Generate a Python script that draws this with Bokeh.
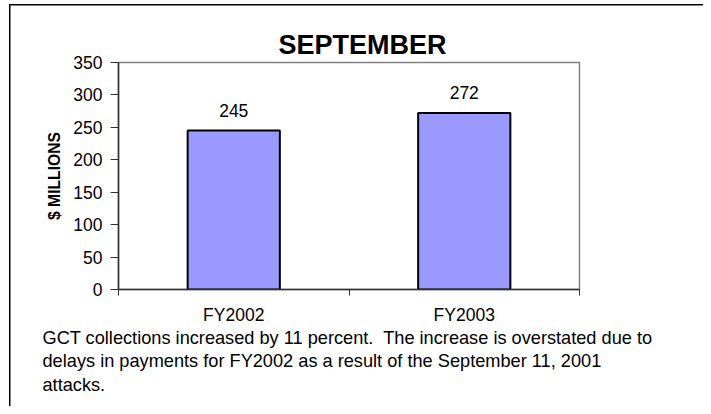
from bokeh.plotting import figure
from bokeh.models import Range1d, FixedTicker, LinearAxis, Label, Title
from bokeh.embed import file_html
from bokeh.resources import INLINE

categories = ["FY2002", "FY2003"]
values = [245, 272]
y_ticks = [0, 50, 100, 150, 200, 250, 300, 350]
title_text = "SEPTEMBER"
y_label = "$ MILLIONS"
note_lines = [
    "GCT collections increased by 11 percent.\u00a0 The increase is overstated due to",
    "delays in payments for FY2002 as a result of the September 11, 2001",
    "attacks.",
]

FONT = "Liberation Sans"
W, H = 703, 406

xs = [i + 0.5 for i in range(len(categories))]
bounds = list(range(len(categories) + 1))

p = figure(width=W, height=H, output_backend="svg", toolbar_location=None,
           x_range=Range1d(0, len(categories)), y_range=Range1d(0, 350),
           x_axis_location=None, y_axis_location=None,
           min_border_left=118, min_border_top=62, min_border_right=124, min_border_bottom=117)
p.grid.visible = False
p.outline_line_color = "#808080"
p.outline_line_width = 1.5
p.background_fill_color = "white"
p.border_fill_alpha = 0
p.styles = {
    "background": "linear-gradient(#000, #000) 9px 4px / 1.5px 100% no-repeat, "
                  "linear-gradient(#000, #000) 9px 4px / 100% 1.5px no-repeat, white",
}

# title
p.title = Title(text=title_text, text_font=FONT, text_font_size="27px",
                text_font_style="bold", align="left", offset=160, standoff=6,
                text_color="black")

# y axis
ya = LinearAxis(ticker=FixedTicker(ticks=y_ticks))
ya.axis_line_color = "#333333"
ya.axis_line_width = 1.5
ya.major_tick_line_color = "#333333"
ya.major_tick_out = 8
ya.major_tick_in = 0
ya.minor_tick_line_color = None
ya.major_label_text_font = FONT
ya.major_label_text_font_size = "17.5px"
ya.major_label_text_color = "black"
ya.major_label_standoff = 8
ya.axis_label = y_label
ya.axis_label_text_font = FONT
ya.axis_label_text_font_size = "15.7px"
ya.axis_label_text_font_style = "bold"
ya.axis_label_text_color = "black"
ya.axis_label_standoff = 7
p.add_layout(ya, "left")

# x axis: labels at category centres, minor ticks at boundaries
xa = LinearAxis(ticker=FixedTicker(ticks=xs, minor_ticks=bounds))
xa.axis_line_color = "#333333"
xa.axis_line_width = 1.5
xa.major_tick_line_color = None
xa.major_tick_out = 0
xa.major_tick_in = 0
xa.minor_tick_line_color = "#333333"
xa.minor_tick_out = 6
xa.minor_tick_in = 0
xa.major_label_overrides = {x: c for x, c in zip(xs, categories)}
xa.major_label_text_font = FONT
xa.major_label_text_font_size = "17.5px"
xa.major_label_text_color = "black"
xa.major_label_standoff = 9
xa.axis_label_standoff = 0
p.add_layout(xa, "below")

p.vbar(x=xs, top=values, width=0.4, fill_color="#9999FF", line_color="black", line_width=2)

for x, v in zip(xs, values):
    p.add_layout(Label(x=x, y=v + 31, text=str(v), text_font=FONT, text_font_size="17.5px",
                       text_align="center", text_baseline="middle", text_color="black"))

for i, line in enumerate(note_lines):
    p.add_layout(Title(text=line, text_font=FONT, text_font_size="18.2px",
                       text_font_style="normal", align="left", offset=-76,
                       vertical_align="top",
                       standoff=0 if i == 0 else 2, text_color="black"), "below")

open("out.html", "w").write(file_html(p, INLINE))
